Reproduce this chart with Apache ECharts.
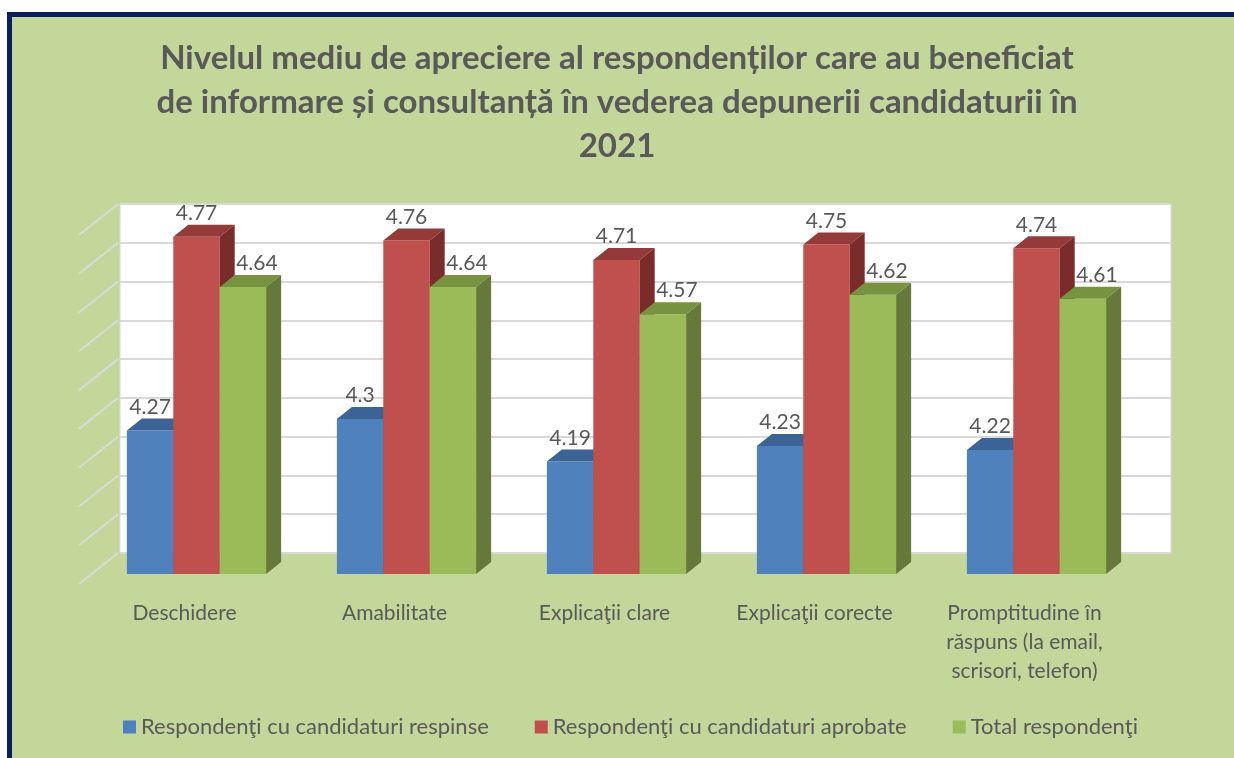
<!DOCTYPE html>
<html>
<head>
<meta charset="utf-8">
<script src="https://cdn.jsdelivr.net/npm/echarts@6/dist/echarts.min.js"></script>
<style>
	body { margin: 0; background: #fff; overflow: hidden; }
	#frame {
		position: absolute; left: 7px; top: 12px; width: 1260px; height: 780px;
		border-left: 5px solid #0A215F; border-top: 5px solid #0A215F;
		background: #C4D79B;
	}
	#main { position: absolute; left: 0; top: 0; width: 1234px; height: 758px; }
</style>
</head>
<body>
<div id="frame"></div>
<div id="main"></div>
<script>
// Data
const categories = [
	'Deschidere',
	'Amabilitate',
	'Explicaţii clare',
	'Explicaţii corecte',
	'Promptitudine în\nrăspuns (la email,\nscrisori, telefon)'
]
const seriesNames = [
	'Respondenţi cu candidaturi respinse',
	'Respondenţi cu candidaturi aprobate',
	'Total respondenţi'
]
const respinse = [4.27, 4.3, 4.19, 4.23, 4.22]
const aprobate = [4.77, 4.76, 4.71, 4.75, 4.74]
const total = [4.64, 4.64, 4.57, 4.62, 4.61]
const gridTicks = [3.9, 4.0, 4.1, 4.2, 4.3, 4.4, 4.5, 4.6, 4.7, 4.8]

const faceColors = ['#4F81BD', '#C0504D', '#9BBB59']
const topColors = ['#3B6396', '#943B39', '#789340']
const sideColors = ['#2F507A', '#7A2C2A', '#66793A']
const labelShift = [0, 0, 14]
const textColor = '#595959'
const font = 'Lato'
const yMin = 3.9
const depthX = 15
const depthY = 12

const myChart = echarts.init(document.getElementById('main'))

const barSeries = (name, values, s) => ({
	name: name,
	type: 'custom',
	xAxisIndex: 1,
	yAxisIndex: 1,
	itemStyle: { color: faceColors[s] },
	clip: false,
	data: values.map((v, i) => [i, v]),
	encode: { x: 0, y: 1 },
	renderItem: (params, api) => {
		const idx = api.value(0)
		const val = api.value(1)
		const base = api.coord([idx, yMin])
		const top = api.coord([idx, val])
		const barW = api.size([1, 0])[0] * 0.221
		const x0 = base[0] + (s - 1.5) * barW
		const ty = top[1]
		const by = base[1]
		return {
			type: 'group',
			children: [
				{
					type: 'rect',
					shape: { x: x0, y: ty, width: barW, height: by - ty },
					style: { fill: faceColors[s] }
				},
				{
					type: 'polygon',
					shape: { points: [[x0, ty], [x0 + depthX, ty - depthY], [x0 + barW + depthX, ty - depthY], [x0 + barW, ty]] },
					style: { fill: topColors[s] }
				},
				{
					type: 'polygon',
					shape: { points: [[x0 + barW, ty], [x0 + barW + depthX, ty - depthY], [x0 + barW + depthX, by - depthY], [x0 + barW, by]] },
					style: { fill: sideColors[s] }
				},
				{
					type: 'text',
					x: x0 + barW / 2 + labelShift[s],
					y: ty - depthY - 1,
					z2: 10,
					style: {
						text: String(val),
						fill: textColor,
						fontSize: 21,
						fontFamily: font,
						align: 'center',
						verticalAlign: 'bottom'
					}
				}
			]
		}
	}
})

myChart.setOption({
	backgroundColor: 'transparent',
	title: {
		text: 'Nivelul mediu de apreciere al respondenților care au beneficiat\nde informare și consultanță în vederea depunerii candidaturii în\n2021',
		left: 'center',
		top: 31,
		textStyle: {
			color: textColor,
			fontFamily: font,
			fontWeight: 'bold',
			fontSize: 33,
			lineHeight: 44
		}
	},
	legend: {
		data: seriesNames,
		left: 123,
		top: 716,
		padding: 0,
		icon: 'rect',
		itemWidth: 13,
		itemHeight: 13,
		itemGap: 46,
		textStyle: { color: textColor, fontFamily: font, fontSize: 22 }
	},
	grid: [
		{
			// back wall
			left: 120,
			right: 63,
			top: 204,
			bottom: 205,
			show: true,
			backgroundColor: '#fff',
			borderColor: '#D9D9D9',
			borderWidth: 1
		},
		{
			// front plane of the bars
			left: 91.5,
			right: 92.5,
			top: 225,
			bottom: 184
		}
	],
	xAxis: [
		{
			gridIndex: 0,
			type: 'category',
			data: categories,
			show: false
		},
		{
			gridIndex: 1,
			type: 'category',
			data: categories,
			axisLine: { show: false },
			axisTick: { show: false },
			axisLabel: {
				interval: 0,
				margin: 25,
				padding: [0, 24, 0, 0],
				color: textColor,
				fontFamily: font,
				fontSize: 21,
				lineHeight: 29
			}
		}
	],
	yAxis: [
		{
			gridIndex: 0,
			type: 'value',
			min: 3.9,
			max: 4.8,
			interval: 0.1,
			axisLine: { show: false },
			axisTick: { show: false },
			axisLabel: { show: false },
			splitLine: { lineStyle: { color: '#D9D9D9', width: 2 } }
		},
		{
			gridIndex: 1,
			type: 'value',
			min: 3.9,
			max: 4.8,
			interval: 0.1,
			show: false
		}
	],
	series: [
		barSeries(seriesNames[0], respinse, 0),
		barSeries(seriesNames[1], aprobate, 1),
		barSeries(seriesNames[2], total, 2),
		{
			// side wall lines
			type: 'custom',
			xAxisIndex: 0,
			yAxisIndex: 0,
			clip: false,
			silent: true,
			data: gridTicks.map(v => [0, v]),
			encode: { x: 0, y: 1 },
			renderItem: (params, api) => {
				const y = api.coord([0, api.value(1)])[1]
				const x = params.coordSys.x
				return {
					type: 'line',
					shape: { x1: x - 2, y1: y, x2: x - 41, y2: y + 31 },
					style: { stroke: '#D9D9D9', lineWidth: 2 }
				}
			}
		}
	]
})
</script>
</body>
</html>
